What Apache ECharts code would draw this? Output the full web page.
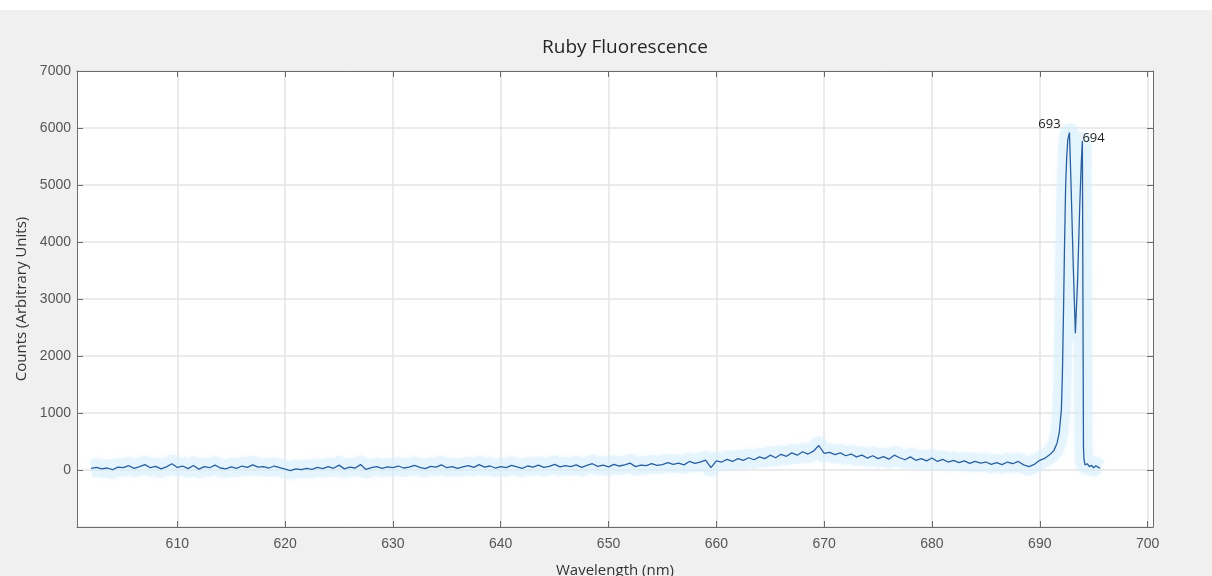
<!DOCTYPE html>
<html>
<head>
<meta charset="utf-8">
<title>Ruby Fluorescence</title>
<script src="https://cdn.jsdelivr.net/npm/echarts@6/dist/echarts.min.js"></script>
<style>
  html, body { margin: 0; padding: 0; background: #ffffff; }
  #chart { width: 1212px; height: 576px; }
</style>
</head>
<body>
<div id="chart"></div>
<script>
// Spectrometer readout: wavelength (nm) and detector counts
const wavelengths = [
  602.0, 602.5, 603.0, 603.5, 604.0, 604.5, 605.0, 605.5, 606.0, 606.5,
  607.0, 607.5, 608.0, 608.5, 609.0, 609.5, 610.0, 610.5, 611.0, 611.5,
  612.0, 612.5, 613.0, 613.5, 614.0, 614.5, 615.0, 615.5, 616.0, 616.5,
  617.0, 617.5, 618.0, 618.5, 619.0, 619.5, 620.0, 620.5, 621.0, 621.5,
  622.0, 622.5, 623.0, 623.5, 624.0, 624.5, 625.0, 625.5, 626.0, 626.5,
  627.0, 627.5, 628.0, 628.5, 629.0, 629.5, 630.0, 630.5, 631.0, 631.5,
  632.0, 632.5, 633.0, 633.5, 634.0, 634.5, 635.0, 635.5, 636.0, 636.5,
  637.0, 637.5, 638.0, 638.5, 639.0, 639.5, 640.0, 640.5, 641.0, 641.5,
  642.0, 642.5, 643.0, 643.5, 644.0, 644.5, 645.0, 645.5, 646.0, 646.5,
  647.0, 647.5, 648.0, 648.5, 649.0, 649.5, 650.0, 650.5, 651.0, 651.5,
  652.0, 652.5, 653.0, 653.5, 654.0, 654.5, 655.0, 655.5, 656.0, 656.5,
  657.0, 657.5, 658.0, 658.5, 659.0, 659.5, 660.0, 660.5, 661.0, 661.5,
  662.0, 662.5, 663.0, 663.5, 664.0, 664.5, 665.0, 665.5, 666.0, 666.5,
  667.0, 667.5, 668.0, 668.5, 669.0, 669.5, 670.0, 670.5, 671.0, 671.5,
  672.0, 672.5, 673.0, 673.5, 674.0, 674.5, 675.0, 675.5, 676.0, 676.5,
  677.0, 677.5, 678.0, 678.5, 679.0, 679.5, 680.0, 680.5, 681.0, 681.5,
  682.0, 682.5, 683.0, 683.5, 684.0, 684.5, 685.0, 685.5, 686.0, 686.5,
  687.0, 687.5, 688.0, 688.5, 689.0, 689.5, 690.0, 690.5, 691.0,
  691.3, 691.6, 691.8, 692.0, 692.1, 692.2, 692.3, 692.4, 692.5, 692.6,
  692.75, 692.9, 693.1, 693.3, 693.5, 693.7, 693.85, 693.95, 694.05, 694.1,
  694.2, 694.4, 694.6, 694.8, 695.0, 695.2, 695.4, 695.6
];

const counts = [
  30, 45, 20, 35, 5, 50, 40, 75, 30, 60,
  95, 40, 65, 20, 55, 110, 45, 70, 25, 80,
  15, 60, 40, 85, 35, 20, 55, 30, 70, 45,
  90, 50, 60, 35, 70, 40, 15, -10, 20, 5,
  30, 10, 45, 25, 60, 30, 85, 20, 50, 35,
  95, 10, 40, 60, 30, 55, 40, 70, 35, 50,
  80, 45, 25, 65, 50, 90, 40, 60, 30, 55,
  75, 45, 95, 50, 70, 35, 60, 40, 80, 55,
  30, 70, 50, 85, 45, 65, 100, 55, 75, 60,
  90, 45, 80, 110, 65, 85, 55, 100, 70, 90,
  120, 60, 85, 75, 110, 80, 95, 130, 100, 120,
  90, 150, 115, 140, 175, 40, 160, 140, 185, 150,
  200, 170, 215, 180, 230, 200, 260, 215, 275, 240,
  300, 260, 320, 280, 330, 430, 290, 310, 270, 300,
  250, 280, 230, 260, 210, 250, 200, 235, 190, 260,
  215, 180, 230, 170, 200, 160, 210, 150, 185, 140,
  170, 130, 160, 115, 150, 120, 140, 100, 130, 95,
  140, 110, 150, 90, 60, 100, 170, 210, 280,
  340, 470, 650, 1050, 1700, 2800, 4000, 5000, 5500, 5800,
  5920, 5000, 3600, 2400, 3300, 4600, 5400, 5770, 400, 180,
  90, 110, 60, 80, 40, 75, 50, 30
];

// Wavelengths of the two R-line maxima that get annotated
const peakWavelengths = [692.75, 693.95];

// Axis ranges and tick positions
const xRange = [600.7, 700.5];
const xTicks = [610, 620, 630, 640, 650, 660, 670, 680, 690, 700];
const yRange = [-1000, 7000];
const yStep = 1000;

const seriesData = wavelengths.map((w, i) => [w, counts[i]]);

const peakMarks = peakWavelengths.map((pw, k) => {
  const i = wavelengths.indexOf(pw);
  return {
    coord: [wavelengths[i], counts[i]],
    label: k === 0
      ? { position: 'top', distance: 4, offset: [-20, 2] }
      : { position: 'right', distance: 0, offset: [0, -3] }
  };
});

const axisGray = '#6b6b6b';
const gridGray = '#e4e4e4';
const tickFont = { color: '#555555', fontSize: 14, fontFamily: 'Liberation Sans, Arial, sans-serif' };

const chart = echarts.init(document.getElementById('chart'), null, { renderer: 'canvas' });

chart.setOption({
  animation: false,
  backgroundColor: '#f0f0f0',
  graphic: [{
    type: 'rect',
    z: -10,
    shape: { x: 0, y: 0, width: 1212, height: 10 },
    style: { fill: '#ffffff' }
  }],
  title: {
    text: 'Ruby Fluorescence',
    left: 537,
    top: 33,
    textStyle: { color: '#262626', fontSize: 19, fontWeight: 'normal', fontFamily: 'Open Sans, Noto Sans, sans-serif' }
  },
  grid: {
    left: 77, right: 59, top: 71, bottom: 49,
    outerBoundsMode: 'none',
    containLabel: false,
    show: true, backgroundColor: '#ffffff', borderWidth: 0
  },
  xAxis: [{
    type: 'value',
    min: xRange[0], max: xRange[1],
    position: 'bottom',
    name: 'Wavelength (nm)',
    nameLocation: 'middle',
    nameGap: 36,
    nameTextStyle: { color: '#333333', fontSize: 15, fontFamily: 'Open Sans, Noto Sans, sans-serif' },
    axisLine: { show: true, onZero: false, lineStyle: { color: axisGray, width: 1 } },
    axisTick: { show: true, inside: true, length: 6, customValues: xTicks, lineStyle: { color: axisGray } },
    axisLabel: Object.assign({ customValues: xTicks, margin: 10 }, tickFont),
    splitLine: { show: true, lineStyle: { color: gridGray, width: 1.5 } }
  }, {
    type: 'value',
    min: xRange[0], max: xRange[1],
    position: 'top',
    axisLine: { show: true, onZero: false, lineStyle: { color: axisGray, width: 1 } },
    axisTick: { show: true, inside: true, length: 6, customValues: xTicks, lineStyle: { color: axisGray } },
    axisLabel: { show: false },
    splitLine: { show: false }
  }],
  yAxis: [{
    type: 'value',
    min: yRange[0], max: yRange[1], interval: yStep,
    position: 'left',
    name: 'Counts (Arbitrary Units)',
    nameLocation: 'middle',
    nameGap: 48,
    nameTextStyle: { color: '#333333', fontSize: 15, fontFamily: 'Open Sans, Noto Sans, sans-serif' },
    axisLine: { show: true, onZero: false, lineStyle: { color: axisGray, width: 1 } },
    axisTick: { show: true, inside: true, length: 6, lineStyle: { color: axisGray } },
    axisLabel: Object.assign({ margin: 6, formatter: v => (v < 0 ? '' : String(v)) }, tickFont),
    splitLine: { show: true, lineStyle: { color: gridGray, width: 1.5 } }
  }, {
    type: 'value',
    min: yRange[0], max: yRange[1], interval: yStep,
    position: 'right',
    axisLine: { show: true, onZero: false, lineStyle: { color: axisGray, width: 1 } },
    axisTick: { show: true, inside: true, length: 6, lineStyle: { color: axisGray } },
    axisLabel: { show: false },
    splitLine: { show: false }
  }],
  series: [{
    // faint pale-blue haze behind the trace
    type: 'line',
    xAxisIndex: 0,
    yAxisIndex: 0,
    data: seriesData,
    showSymbol: false,
    symbol: 'none',
    silent: true,
    z: 1,
    lineStyle: {
      color: 'rgba(214, 238, 252, 0.5)',
      width: 18,
      join: 'round',
      cap: 'butt',
      shadowColor: 'rgba(214, 238, 252, 0.6)',
      shadowBlur: 6
    }
  }, {
    type: 'line',
    xAxisIndex: 0,
    yAxisIndex: 0,
    data: seriesData,
    showSymbol: false,
    symbol: 'none',
    silent: true,
    z: 2,
    lineStyle: {
      color: '#2a5f9e',
      width: 1.3
    },
    markPoint: {
      symbol: 'circle',
      symbolSize: 0,
      silent: true,
      label: {
        show: true,
        color: '#222222',
        fontSize: 13,
        fontFamily: 'Open Sans, Noto Sans, sans-serif',
        formatter: p => String(Math.round(p.data.coord[0]))
      },
      data: peakMarks
    }
  }]
});
</script>
</body>
</html>
